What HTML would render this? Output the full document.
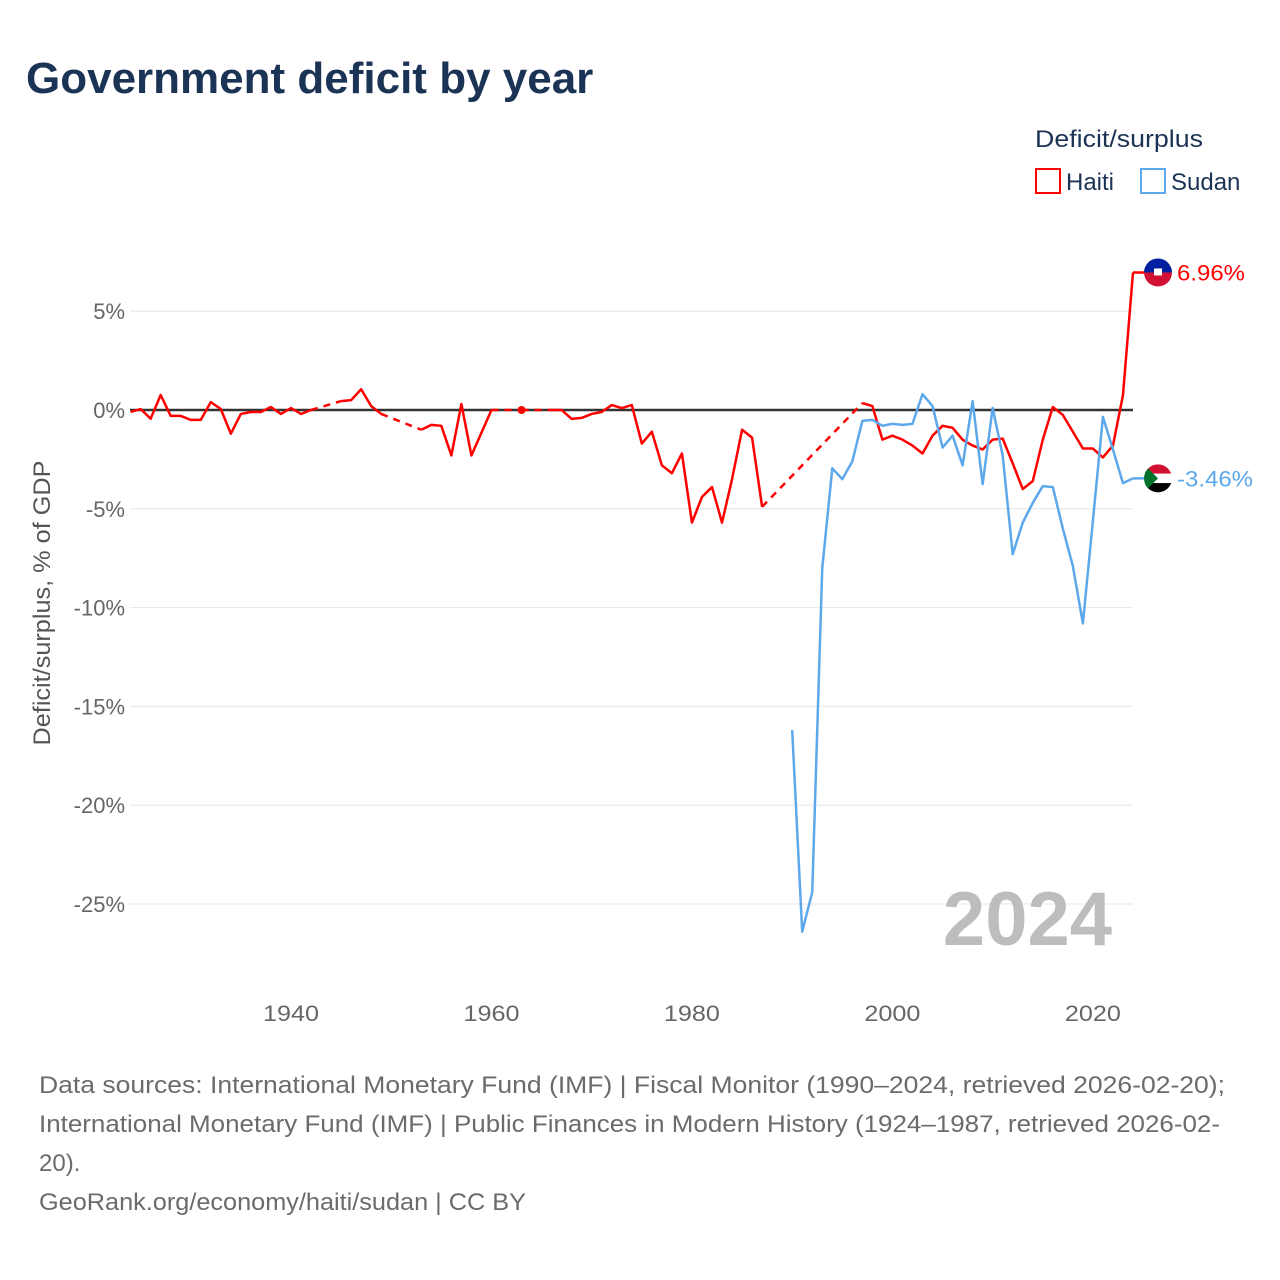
<!DOCTYPE html>
<html><head><meta charset="utf-8">
<style>
body{margin:0;background:#fff;font-family:"Liberation Sans",sans-serif;}
#wrap{position:relative;width:1280px;height:1280px;overflow:hidden;}
</style></head>
<body>
<div id="wrap">
<svg id="chart" width="1280" height="1280" viewBox="0 0 1280 1280" style="font-family:'Liberation Sans',sans-serif">
<text x="26" y="93" font-size="44" font-weight="bold" fill="#1b3354">Government deficit by year</text>
<text x="1035" y="147" font-size="24" fill="#1b3354" textLength="168" lengthAdjust="spacingAndGlyphs">Deficit/surplus</text>
<g><rect x="1036" y="169" width="24" height="24" fill="none" stroke="#ff0000" stroke-width="2"/><text x="1066" y="190" font-size="24" fill="#1b3354">Haiti</text></g>
<g><rect x="1141" y="169" width="24" height="24" fill="none" stroke="#5da8ea" stroke-width="2"/><text x="1171" y="190" font-size="24" fill="#1b3354">Sudan</text></g>
<text transform="translate(50,603) rotate(-90)" text-anchor="middle" font-size="24" fill="#555" textLength="285" lengthAdjust="spacingAndGlyphs">Deficit/surplus, % of GDP</text>
<g id="grid"></g>
<text x="1112" y="945" text-anchor="end" font-size="76" font-weight="bold" fill="#bdbdbd">2024</text>
<g id="series"></g>
<g id="endlabels"></g>
<g font-size="24" fill="#6b6b6b">
<text x="39" y="1093" textLength="1186" lengthAdjust="spacingAndGlyphs">Data sources: International Monetary Fund (IMF) | Fiscal Monitor (1990–2024, retrieved 2026-02-20);</text>
<text x="39" y="1132" textLength="1181" lengthAdjust="spacingAndGlyphs">International Monetary Fund (IMF) | Public Finances in Modern History (1924–1987, retrieved 2026-02-</text>
<text x="39" y="1171">20).</text>
<text x="39" y="1210" textLength="487" lengthAdjust="spacingAndGlyphs">GeoRank.org/economy/haiti/sudan | CC BY</text>
</g>
</svg>
</div>
<script>
const haitiStart = 1924;
const haitiValues = [-0.1,0.05,-0.44,0.76,-0.3,-0.3,-0.5,-0.5,0.4,0.05,-1.2,-0.2,-0.1,-0.1,0.15,-0.2,0.1,-0.2,0,null,null,0.45,0.5,1.05,0.2,-0.2,null,null,null,-1.0,-0.75,-0.8,-2.3,0.3,-2.3,-1.15,0,null,null,0,null,null,0,0,-0.45,-0.4,-0.2,-0.1,0.25,0.1,0.25,-1.7,-1.1,-2.8,-3.2,-2.2,-5.7,-4.4,-3.9,-5.7,-3.5,-1.0,-1.4,-4.9,null,null,null,null,null,null,null,null,null,0.35,0.2,-1.5,-1.3,-1.5,-1.8,-2.2,-1.3,-0.8,-0.9,-1.5,-1.8,-2.0,-1.5,-1.45,-2.7,-4.0,-3.6,-1.5,0.15,-0.25,-1.1,-1.95,-1.95,-2.4,-1.8,0.75,6.96];
const sudanStart = 1990;
const sudanValues = [-16.2,-26.4,-24.4,-8.0,-2.95,-3.5,-2.6,-0.55,-0.5,-0.8,-0.7,-0.75,-0.7,0.8,0.2,-1.9,-1.3,-2.8,0.45,-3.75,0.1,-2.3,-7.3,-5.7,-4.7,-3.85,-3.9,-6.0,-7.9,-10.8,-5.6,-0.35,-2.0,-3.7,-3.46];
const yTicks = [5,0,-5,-10,-15,-20,-25];
const xTicks = [1940,1960,1980,2000,2020];

const NS='http://www.w3.org/2000/svg';
const X0=130.6, X1=1133, Y0=1924, Y1=2024;
const xs = y => X0 + (y-Y0)*(X1-X0)/(Y1-Y0);
const ys = v => 410 - v*19.76;
function mk(tag,attrs,parent){const e=document.createElementNS(NS,tag);for(const k in attrs)e.setAttribute(k,attrs[k]);parent.appendChild(e);return e;}
const grid=document.getElementById('grid');
yTicks.forEach(t=>{
  const l=mk('line',{x1:130,x2:1133,y1:ys(t),y2:ys(t),stroke:t===0?'#333':'#e6e6e6','stroke-width':t===0?2.5:1},grid);
  
  
  const tx=mk('text',{x:125,y:ys(t)+8,'text-anchor':'end','font-size':22,fill:'#666'},grid);
  tx.textContent=t+'%';
  
  
});
xTicks.forEach(t=>{
  const tx=mk('text',{x:xs(t),y:1021,'text-anchor':'middle','font-size':22,fill:'#666',textLength:56,lengthAdjust:'spacingAndGlyphs'},grid);
  tx.textContent=t;
  
  
});
const sg=document.getElementById('series');
function drawSeries(start,vals,color,name){
  const g=mk('g',{},sg);
  
  
  const pts=vals.map((v,i)=>v==null?null:[xs(start+i),ys(v)]);
  let segs=[],cur=[];
  pts.forEach(p=>{if(p){cur.push(p);}else if(cur.length){segs.push(cur);cur=[];}});
  if(cur.length)segs.push(cur);
  for(let i=0;i<segs.length-1;i++){
    const a=segs[i][segs[i].length-1],b=segs[i+1][0];
    const d=mk('line',{x1:a[0],y1:a[1],x2:b[0],y2:b[1],stroke:color,'stroke-width':2.5,'stroke-dasharray':'7,6'},g);
    
    
  }
  segs.forEach(s=>{
    if(s.length===1){
      const c=mk('circle',{cx:s[0][0],cy:s[0][1],r:4,fill:color},g);
      
      
    } else {
      const p=mk('polyline',{points:s.map(q=>q.join(',')).join(' '),fill:'none',stroke:color,'stroke-width':2.5,'stroke-linejoin':'round'},g);
      
      
    }
  });
  const last=pts[pts.length-1];
  const con=mk('line',{x1:last[0],y1:last[1],x2:1150,y2:last[1],stroke:color,'stroke-width':2.5},g);
  
  
}
drawSeries(haitiStart,haitiValues,'#ff0000','haiti');
drawSeries(sudanStart,sudanValues,'#5da8ea','sudan');

const el=document.getElementById('endlabels');
const hv=haitiValues[haitiValues.length-1], sv=sudanValues[sudanValues.length-1];
const hy=ys(hv), sy=ys(sv), fx=1158;
const hf=mk('g',{},el);


const cph=mk('clipPath',{id:'ch'},hf);
mk('circle',{cx:fx,cy:hy,r:14},cph);
mk('rect',{x:fx-14,y:hy-14,width:28,height:14,fill:'#00209f','clip-path':'url(#ch)'},hf);
mk('rect',{x:fx-14,y:hy,width:28,height:14,fill:'#d21034','clip-path':'url(#ch)'},hf);
mk('rect',{x:fx-4,y:hy-4,width:8,height:7,fill:'#fff'},hf);
const ht=mk('text',{x:1177,y:hy+8,'font-size':22,fill:'#ff0000',textLength:68,lengthAdjust:'spacingAndGlyphs'},el);
ht.textContent=hv.toFixed(2)+'%';


const sf=mk('g',{},el);


const cp=mk('clipPath',{id:'cs'},sf);
mk('circle',{cx:fx,cy:sy,r:14},cp);
mk('rect',{x:fx-14,y:sy-14,width:28,height:9.4,fill:'#d21034','clip-path':'url(#cs)'},sf);
mk('rect',{x:fx-14,y:sy-4.7,width:28,height:9.4,fill:'#fff','clip-path':'url(#cs)'},sf);
mk('rect',{x:fx-14,y:sy+4.7,width:28,height:9.4,fill:'#000','clip-path':'url(#cs)'},sf);
mk('polygon',{points:`${fx-14},${sy-14} ${fx},${sy} ${fx-14},${sy+14}`,fill:'#007229','clip-path':'url(#cs)'},sf);
const st=mk('text',{x:1177,y:sy+8,'font-size':22,fill:'#5da8ea',textLength:76,lengthAdjust:'spacingAndGlyphs'},el);
st.textContent=sv.toFixed(2)+'%';


</script>
</body></html>
